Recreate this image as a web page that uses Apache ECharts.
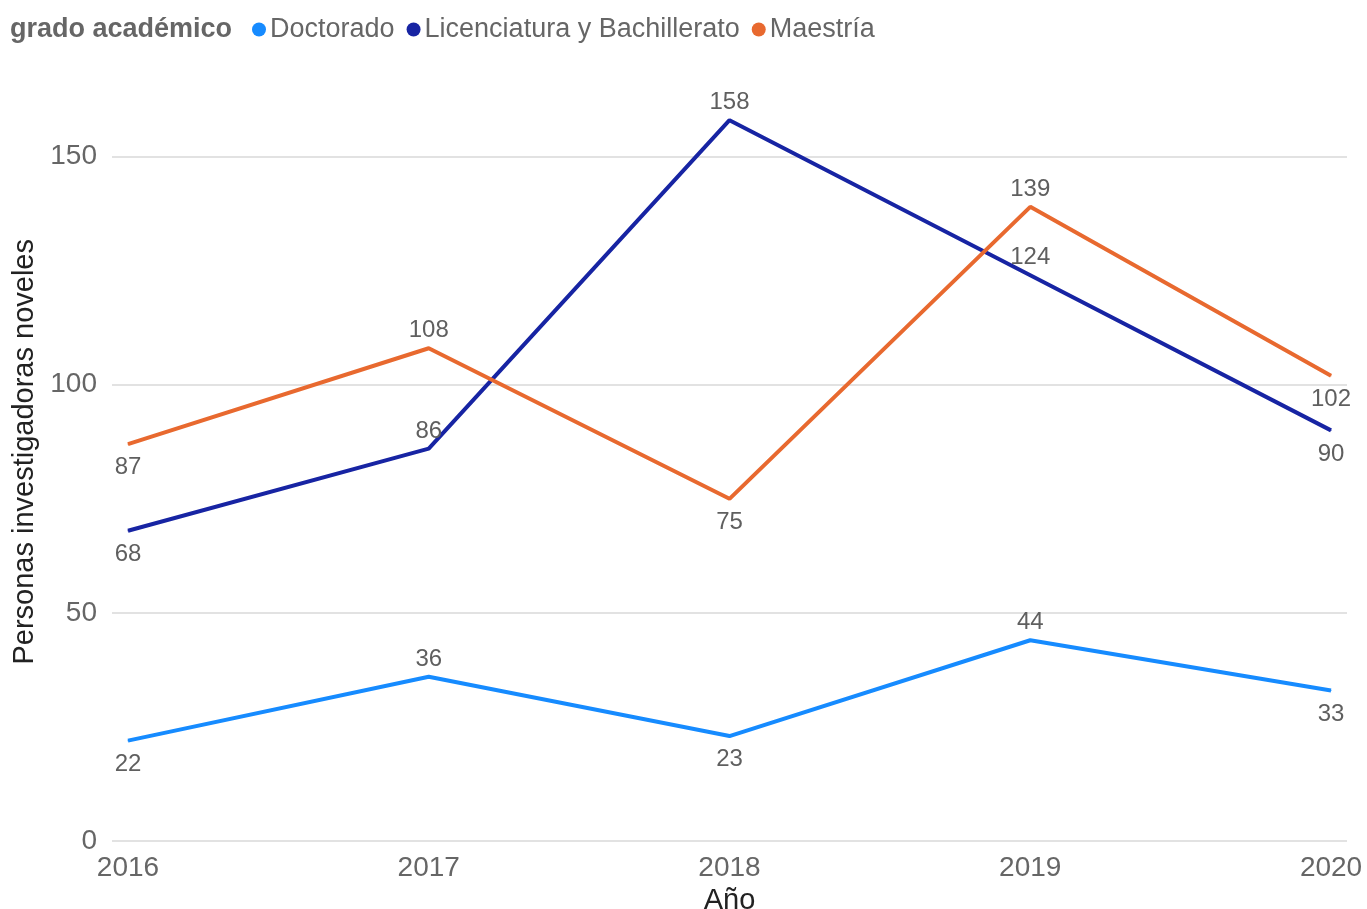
<!DOCTYPE html>
<html>
<head>
<meta charset="utf-8">
<script src="https://cdn.jsdelivr.net/npm/echarts@6/dist/echarts.min.js"></script>
<style>
  html, body { margin: 0; padding: 0; background: #fff; }
  #chart { width: 1367px; height: 909px; }
</style>
</head>
<body>
<div id="chart"></div>
<script>
// datos del gráfico
var years = [2016, 2017, 2018, 2019, 2020];
var doctorado = [22, 36, 23, 44, 33];
var licenciatura = [68, 86, 158, 124, 90];
var maestria = [87, 108, 75, 139, 102];
var yTicks = [0, 50, 100, 150];

// posición de cada etiqueta (arriba / abajo de la línea)
var posDoctorado = ['bottom', 'top', 'bottom', 'top', 'bottom'];
var posLicenciatura = ['bottom', 'top', 'top', 'top', 'bottom'];
var posMaestria = ['bottom', 'top', 'bottom', 'top', 'bottom'];

function buildData(values, positions) {
  return values.map(function (v, i) {
    var pos = positions[i];
    return { value: [years[i], v], label: { position: pos, distance: pos === 'top' ? 5 : 11 } };
  });
}

function makeSeries(name, color, values, positions) {
  return {
    name: name,
    type: 'line',
    symbol: 'circle',
    symbolSize: 1,
    itemStyle: { color: color },
    lineStyle: { width: 4, color: color },
    label: {
      show: true,
      color: '#5f5f5f',
      fontSize: 24,
      fontFamily: 'Liberation Sans, Arial, sans-serif',
      formatter: function (p) { return p.value[1]; }
    },
    emphasis: { disabled: true },
    data: buildData(values, positions)
  };
}

var chart = echarts.init(document.getElementById('chart'));
var pad = 16 / 301.25;

var option = {
  animation: false,
  textStyle: { fontFamily: 'Liberation Sans, Arial, sans-serif' },
  title: {
    text: 'grado académico',
    left: 10,
    top: 16,
    padding: 0,
    textStyle: { fontSize: 27, fontWeight: 'bold', color: '#666666' }
  },
  legend: {
    left: 252,
    top: 16,
    padding: 0,
    icon: 'circle',
    itemWidth: 14,
    itemHeight: 14,
    itemGap: 12,
    textStyle: { fontSize: 27, color: '#666666', padding: [0, 0, 0, -1] },
    data: ['Doctorado', 'Licenciatura y Bachillerato', 'Maestría']
  },
  grid: { left: 112, right: 20, top: 42.6, bottom: 68, containLabel: false, outerBoundsMode: 'none' },
  xAxis: {
    type: 'value',
    min: years[0] - pad,
    max: years[years.length - 1] + pad,
    name: 'Año',
    nameLocation: 'middle',
    nameGap: 37,
    nameTextStyle: { fontSize: 29, color: '#222222' },
    axisLine: { show: false },
    axisTick: { show: false },
    splitLine: { show: false },
    axisLabel: {
      customValues: years,
      fontSize: 28,
      color: '#666666',
      margin: 13,
      formatter: function (v) { return String(Math.round(v)); }
    }
  },
  yAxis: {
    type: 'value',
    min: 0,
    max: 175,
    interval: 50,
    name: 'Personas investigadoras noveles',
    nameLocation: 'middle',
    nameGap: 72,
    nameTextStyle: { fontSize: 29, color: '#222222', padding: [0, 20, 0, 0] },
    axisLine: { show: false },
    axisTick: { show: false },
    splitLine: { show: true, showMaxLine: false, lineStyle: { color: '#d9d9d9', width: 1.5 } },
    axisLabel: {
      fontSize: 28,
      color: '#666666',
      margin: 15,
      formatter: function (v) { return yTicks.indexOf(v) >= 0 ? String(v) : ''; }
    }
  },
  series: [
    makeSeries('Doctorado', '#168bff', doctorado, posDoctorado),
    makeSeries('Licenciatura y Bachillerato', '#1724a3', licenciatura, posLicenciatura),
    makeSeries('Maestría', '#e8692f', maestria, posMaestria)
  ]
};

chart.setOption(option);
</script>
</body>
</html>
